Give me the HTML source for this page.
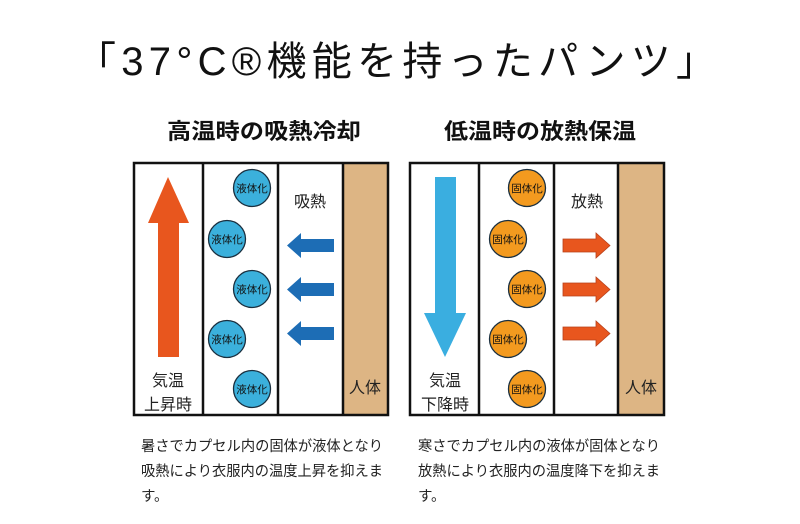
<!DOCTYPE html>
<html><head><meta charset="utf-8"><style>
html,body{margin:0;padding:0;background:#fff;}
svg{display:block;font-family:"Liberation Sans","Noto Sans CJK JP",sans-serif;}
</style></head><body>
<svg width="800" height="524" viewBox="0 0 800 524" xmlns="http://www.w3.org/2000/svg">
<text x="76" y="75" font-size="40" fill="#111" textLength="640" lengthAdjust="spacing">「37°C®機能を持ったパンツ」</text>
<text x="167" y="139" font-size="22" font-weight="bold" fill="#111" textLength="194" lengthAdjust="spacingAndGlyphs">高温時の吸熱冷却</text>
<text x="444" y="139" font-size="22" font-weight="bold" fill="#111" textLength="192" lengthAdjust="spacingAndGlyphs">低温時の放熱保温</text>

<!-- left panel -->
<rect x="343" y="163" width="45" height="252" fill="#ddb584"/>
<rect x="134" y="163" width="254" height="252" fill="none" stroke="#111" stroke-width="2.5"/>
<line x1="203" y1="163" x2="203" y2="415" stroke="#111" stroke-width="2.5"/>
<line x1="278" y1="163" x2="278" y2="415" stroke="#111" stroke-width="2.5"/>
<line x1="343" y1="163" x2="343" y2="415" stroke="#111" stroke-width="2.5"/>
<polygon points="168,177 189,223 179,223 179,357 158,357 158,223 148,223" fill="#e8561e"/>
<text x="168" y="386" font-size="16" text-anchor="middle" fill="#222">気温</text>
<text x="168" y="410" font-size="16" text-anchor="middle" fill="#222">上昇時</text>
<g fill="#3bb0dc" stroke="#1a2f3f" stroke-width="1.3">
<circle cx="252" cy="188" r="18.5"/><circle cx="227" cy="239" r="18.5"/><circle cx="252" cy="289" r="18.5"/><circle cx="227" cy="339" r="18.5"/><circle cx="252" cy="389" r="18.5"/>
</g>
<g font-size="10.5" text-anchor="middle" fill="#111">
<text x="252" y="192">液体化</text><text x="227" y="243">液体化</text><text x="252" y="293">液体化</text><text x="227" y="343">液体化</text><text x="252" y="393">液体化</text>
</g>
<text x="310" y="207" font-size="16" text-anchor="middle" fill="#222">吸熱</text>
<g fill="#1d6db5">
<polygon points="287,245.5 301,233 301,239 334,239 334,252 301,252 301,258"/>
<polygon points="287,289.5 301,277 301,283 334,283 334,296 301,296 301,302"/>
<polygon points="287,333.5 301,321 301,327 334,327 334,340 301,340 301,346"/>
</g>
<text x="365" y="393" font-size="16" text-anchor="middle" fill="#222">人体</text>

<!-- right panel -->
<rect x="618" y="163" width="46" height="252" fill="#ddb584"/>
<rect x="410" y="163" width="254" height="252" fill="none" stroke="#111" stroke-width="2.5"/>
<line x1="479" y1="163" x2="479" y2="415" stroke="#111" stroke-width="2.5"/>
<line x1="554" y1="163" x2="554" y2="415" stroke="#111" stroke-width="2.5"/>
<line x1="618" y1="163" x2="618" y2="415" stroke="#111" stroke-width="2.5"/>
<polygon points="435,177 456,177 456,313 466,313 445,357 424,313 435,313" fill="#3aaee0"/>
<text x="445" y="386" font-size="16" text-anchor="middle" fill="#222">気温</text>
<text x="445" y="410" font-size="16" text-anchor="middle" fill="#222">下降時</text>
<g fill="#f39a1f" stroke="#1a2f3f" stroke-width="1.3">
<circle cx="527" cy="188" r="18.5"/><circle cx="508" cy="239" r="18.5"/><circle cx="527" cy="289" r="18.5"/><circle cx="508" cy="339" r="18.5"/><circle cx="527" cy="389" r="18.5"/>
</g>
<g font-size="10.5" text-anchor="middle" fill="#111">
<text x="527" y="192">固体化</text><text x="508" y="243">固体化</text><text x="527" y="293">固体化</text><text x="508" y="343">固体化</text><text x="527" y="393">固体化</text>
</g>
<text x="587" y="207" font-size="16" text-anchor="middle" fill="#222">放熱</text>
<g fill="#e8561e" stroke="#b8401a" stroke-width="0.8">
<polygon points="610,245.5 596,233 596,239 563,239 563,252 596,252 596,258"/>
<polygon points="610,289.5 596,277 596,283 563,283 563,296 596,296 596,302"/>
<polygon points="610,333.5 596,321 596,327 563,327 563,340 596,340 596,346"/>
</g>
<text x="641" y="393" font-size="16" text-anchor="middle" fill="#222">人体</text>

<!-- descriptions -->
<g font-size="14.5" fill="#222">
<text x="141" y="451" textLength="242" lengthAdjust="spacingAndGlyphs">暑さでカプセル内の固体が液体となり</text>
<text x="141" y="476" textLength="242" lengthAdjust="spacingAndGlyphs">吸熱により衣服内の温度上昇を抑えま</text>
<text x="141" y="501">す。</text>
<text x="418" y="451" textLength="242" lengthAdjust="spacingAndGlyphs">寒さでカプセル内の液体が固体となり</text>
<text x="418" y="476" textLength="242" lengthAdjust="spacingAndGlyphs">放熱により衣服内の温度降下を抑えま</text>
<text x="418" y="501">す。</text>
</g>
</svg>
</body></html>
